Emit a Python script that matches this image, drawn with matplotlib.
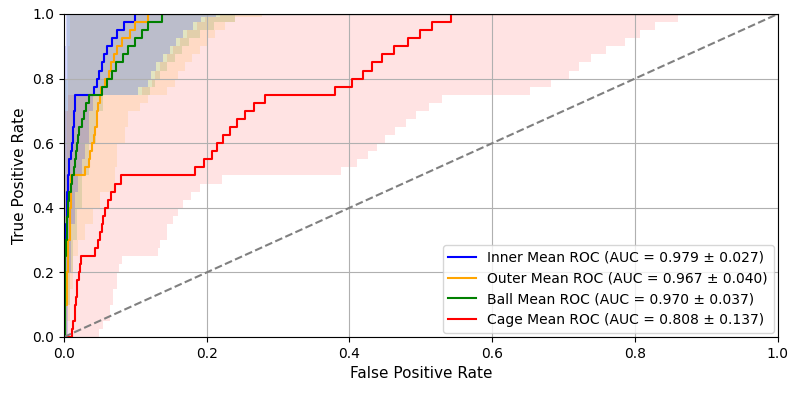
import numpy as np
import matplotlib
matplotlib.use("Agg")
import matplotlib.pyplot as plt

# ---------------- mean ROC step curves (fpr where tpr reaches each level) --------------
inner_fpr = [0, 0.0005, 0.001, 0.0015, 0.002, 0.003, 0.004, 0.0048, 0.0056, 0.0075, 0.0095,
             0.0112, 0.0125, 0.0136, 0.0143, 0.015, 0.0416, 0.0462, 0.0495, 0.0532, 0.0565,
             0.0602, 0.0672, 0.0742, 0.0836, 0.099, 1.0]
inner_tpr = [0, 0.1, 0.2, 0.25, 0.3, 0.35, 0.4, 0.45, 0.5, 0.55, 0.575,
             0.6, 0.65, 0.675, 0.7, 0.75, 0.775, 0.8, 0.825, 0.85, 0.875,
             0.9, 0.925, 0.95, 0.975, 1.0, 1.0]

outer_fpr = [0, 0.002, 0.004, 0.006, 0.008, 0.0095, 0.0103, 0.029, 0.0346, 0.037, 0.039,
             0.0416, 0.0439, 0.0458, 0.0476, 0.051, 0.0523, 0.057, 0.0626, 0.0663, 0.0696,
             0.0742, 0.0812, 0.093, 0.099, 0.1176, 1.0]
outer_tpr = [0, 0.1, 0.2, 0.3, 0.4, 0.45, 0.5, 0.525, 0.55, 0.575, 0.6,
             0.625, 0.65, 0.7, 0.725, 0.75, 0.775, 0.8, 0.825, 0.85, 0.875,
             0.9, 0.925, 0.95, 0.975, 1.0, 1.0]

ball_fpr = [0, 0.001, 0.002, 0.0028, 0.004, 0.0055, 0.0075, 0.0094, 0.0112, 0.0136, 0.015,
            0.0168, 0.0182, 0.0196, 0.0215, 0.025, 0.0276, 0.031, 0.0346, 0.0528, 0.0598,
            0.0668, 0.0728, 0.083, 0.09, 0.0994, 0.109, 0.118, 0.138, 1.0]
ball_tpr = [0, 0.15, 0.25, 0.3, 0.37, 0.42, 0.45, 0.475, 0.5, 0.525, 0.55,
            0.575, 0.6, 0.625, 0.65, 0.675, 0.7, 0.725, 0.75, 0.775, 0.8,
            0.825, 0.85, 0.875, 0.9, 0.925, 0.95, 0.975, 1.0, 1.0]

cage_fpr = [0, 0.0103, 0.0115, 0.0128, 0.0152, 0.016, 0.0168, 0.0178, 0.0188, 0.0205, 0.022,
            0.0232, 0.0439, 0.0476, 0.0504, 0.0532, 0.0551, 0.0579, 0.0616, 0.0654, 0.0719,
            0.0803, 0.183, 0.196, 0.208, 0.215, 0.223, 0.233, 0.243, 0.254, 0.2666,
            0.282, 0.380, 0.403, 0.419, 0.432, 0.446, 0.462, 0.482, 0.499, 0.516,
            0.5425, 1.0]
cage_tpr = [0, 0, 0.025, 0.05, 0.075, 0.1, 0.125, 0.15, 0.175, 0.2, 0.225,
            0.25, 0.275, 0.3, 0.325, 0.35, 0.375, 0.4, 0.425, 0.45, 0.475,
            0.5, 0.525, 0.55, 0.575, 0.6, 0.625, 0.65, 0.675, 0.7, 0.725,
            0.75, 0.775, 0.8, 0.825, 0.85, 0.875, 0.9, 0.925, 0.95, 0.975,
            1.0, 1.0]

# ---------------- variability bands (step functions: value holds from x onward) -------
inner_low_x = [0, 0.005, 0.01, 0.015, 0.02, 0.025, 0.03, 0.035, 0.04, 0.104, 0.118,
               0.122, 0.129, 0.139, 0.148, 0.157, 0.167, 0.181, 0.1925, 0.2135]
inner_low_v = [0, 0.2, 0.35, 0.45, 0.5, 0.55, 0.6, 0.7, 0.75, 0.775, 0.8,
               0.825, 0.85, 0.875, 0.9, 0.925, 0.95, 0.975, 0.99, 1.0]
inner_up_x = [0, 0.001, 0.002, 0.003]
inner_up_v = [0.4, 0.7, 0.9, 1.0]

outer_low_x = [0, 0.004, 0.008, 0.012, 0.02, 0.03, 0.04, 0.05, 0.0714, 0.0738, 0.0855,
               0.09, 0.1065, 0.118, 0.145, 0.155, 0.16, 0.17, 0.18, 0.19, 0.2,
               0.2115, 0.2255, 0.2395, 0.277]
outer_low_v = [0, 0.05, 0.15, 0.25, 0.3, 0.35, 0.4, 0.45, 0.525, 0.6, 0.65,
               0.7, 0.725, 0.75, 0.775, 0.8, 0.825, 0.85, 0.875, 0.9, 0.925,
               0.95, 0.975, 0.99, 1.0]
outer_up_x = [0, 0.002, 0.004, 0.006, 0.008]
outer_up_v = [0.2, 0.5, 0.7, 0.9, 1.0]

ball_low_x = [0, 0.004, 0.008, 0.012, 0.018, 0.025, 0.035, 0.045, 0.055, 0.12, 0.128,
              0.135, 0.145, 0.155, 0.165, 0.175, 0.19, 0.21, 0.24]
ball_low_v = [0, 0.1, 0.2, 0.3, 0.4, 0.5, 0.6, 0.7, 0.75, 0.775, 0.8,
              0.825, 0.85, 0.875, 0.9, 0.925, 0.95, 0.975, 1.0]
ball_up_x = [0, 0.001, 0.002, 0.004]
ball_up_v = [0.4, 0.6, 0.8, 1.0]

cage_low_x = [0, 0.0495, 0.055, 0.0644, 0.069, 0.0738, 0.0775, 0.081, 0.132, 0.134, 0.144,
              0.153, 0.160, 0.167, 0.178, 0.19, 0.2208, 0.3875, 0.41, 0.426, 0.4388,
              0.4496, 0.4636, 0.479, 0.493, 0.5117, 0.529, 0.6527, 0.683, 0.708, 0.722,
              0.739, 0.760, 0.786, 0.807, 0.828, 0.860]
cage_low_v = [0, 0.025, 0.05, 0.1, 0.15, 0.2, 0.225, 0.25, 0.275, 0.3, 0.35,
              0.375, 0.4, 0.425, 0.45, 0.475, 0.5, 0.525, 0.55, 0.575, 0.6,
              0.625, 0.65, 0.675, 0.7, 0.725, 0.75, 0.775, 0.8, 0.825, 0.85,
              0.875, 0.9, 0.925, 0.95, 0.975, 1.0]
cage_up_x = [0, 0.005, 0.109, 0.123, 0.127, 0.134, 0.144, 0.153, 0.1625, 0.172, 0.186,
             0.1975, 0.2185]
cage_up_v = [0.7, 0.75, 0.775, 0.8, 0.825, 0.85, 0.875, 0.9, 0.925, 0.95, 0.975,
             0.99, 1.0]

names = ["Inner", "Outer", "Ball", "Cage"]
colors = ["blue", "orange", "green", "red"]
band_alpha = [0.17, 0.13, 0.13, 0.11]
auc_mean = [0.979, 0.967, 0.970, 0.808]
auc_std = [0.027, 0.040, 0.037, 0.137]

curves = [(inner_fpr, inner_tpr), (outer_fpr, outer_tpr), (ball_fpr, ball_tpr), (cage_fpr, cage_tpr)]
bands = [(inner_low_x, inner_low_v, inner_up_x, inner_up_v),
         (outer_low_x, outer_low_v, outer_up_x, outer_up_v),
         (ball_low_x, ball_low_v, ball_up_x, ball_up_v),
         (cage_low_x, cage_low_v, cage_up_x, cage_up_v)]


def step_eval(bx, bv, x):
    bx = np.asarray(bx)
    bv = np.asarray(bv)
    idx = np.searchsorted(bx, x, side="right") - 1
    return bv[np.clip(idx, 0, len(bv) - 1)]


fig = plt.figure(figsize=(7.97, 3.93), dpi=100)
ax = fig.add_axes([0.0803, 0.1425, 0.8955, 0.8219])

# bands drawn from last class to first so that the first sits on top
for (lx, lv, ux, uv), c, a in list(zip(bands, colors, band_alpha))[::-1]:
    xs = np.unique(np.concatenate([lx, ux, [1.0]]))
    lo = step_eval(lx, lv, xs)
    up = step_eval(ux, uv, xs)
    ax.fill_between(xs, lo, np.maximum(up, lo), step="post", color=c, alpha=a, linewidth=0)

for (fx, ty), c, n, m, s in zip(curves, colors, names, auc_mean, auc_std):
    ax.plot(fx, ty, drawstyle="steps-post", color=c, lw=1.5,
            label=f"{n} Mean ROC (AUC = {m:.3f} \u00b1 {s:.3f})")

ax.plot([0, 1], [0, 1], linestyle="--", color="gray", lw=1.5)

ax.set_xlim(0, 1)
ax.set_ylim(0, 1.0)
ax.grid(True)
ax.set_xlabel("False Positive Rate", fontsize=11)
ax.set_ylabel("True Positive Rate", fontsize=11)
ax.legend(loc="lower right", fontsize=10, borderaxespad=0.3)

fig.savefig("out.png", dpi=100)
